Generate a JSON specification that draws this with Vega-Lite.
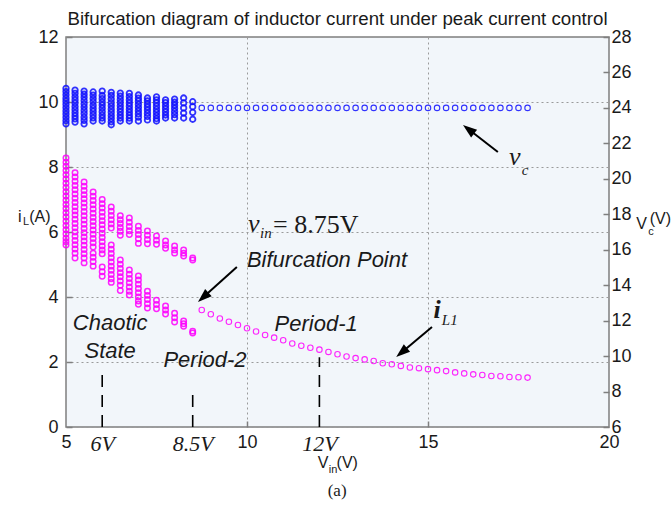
{
  "$schema": "https://vega.github.io/schema/vega-lite/v6.json",
  "width": 543,
  "height": 390,
  "autosize": {"type": "none"},
  "padding": {"left": 66, "top": 37, "right": 62, "bottom": 89},
  "background": "white",
  "title": {"text": "Bifurcation diagram of inductor current under peak current control", "fontSize": 18.7, "font": "Liberation Sans", "fontWeight": "normal", "color": "#1a1a1a", "anchor": "middle", "offset": -1},
  "config": {
    "view": {"fill": "#f2f6fa", "stroke": "#7f7f7f", "strokeWidth": 1.5},
    "axis": {"labelFont": "Liberation Sans", "labelColor": "#1a1a1a", "tickColor": "#7f7f7f", "tickWidth": 1.5, "domain": false}
  },
  "datasets": {
    "pink": [
      {"vin":5,"il":8.28},{"vin":5,"il":8.15},{"vin":5,"il":8.02},{"vin":5,"il":7.89},{"vin":5,"il":7.76},{"vin":5,"il":7.63},{"vin":5,"il":7.5},{"vin":5,"il":7.37},{"vin":5,"il":7.24},{"vin":5,"il":7.11},{"vin":5,"il":6.98},{"vin":5,"il":6.85},{"vin":5,"il":6.72},{"vin":5,"il":6.59},{"vin":5,"il":6.46},{"vin":5,"il":6.33},{"vin":5,"il":6.2},{"vin":5,"il":6.07},{"vin":5,"il":5.94},{"vin":5,"il":5.81},{"vin":5,"il":5.7},{"vin":5,"il":5.6},
      {"vin":5.25,"il":7.82},{"vin":5.25,"il":7.69},{"vin":5.25,"il":7.56},{"vin":5.25,"il":7.43},{"vin":5.25,"il":7.3},{"vin":5.25,"il":7.17},{"vin":5.25,"il":7.04},{"vin":5.25,"il":6.91},{"vin":5.25,"il":6.78},{"vin":5.25,"il":6.65},{"vin":5.25,"il":6.52},{"vin":5.25,"il":6.39},{"vin":5.25,"il":6.26},{"vin":5.25,"il":6.13},{"vin":5.25,"il":6.0},{"vin":5.25,"il":5.87},{"vin":5.25,"il":5.74},{"vin":5.25,"il":5.61},{"vin":5.25,"il":5.48},{"vin":5.25,"il":5.35},{"vin":5.25,"il":5.2},
      {"vin":5.5,"il":7.54},{"vin":5.5,"il":7.41},{"vin":5.5,"il":7.28},{"vin":5.5,"il":7.15},{"vin":5.5,"il":7.02},{"vin":5.5,"il":6.89},{"vin":5.5,"il":6.76},{"vin":5.5,"il":6.63},{"vin":5.5,"il":6.5},{"vin":5.5,"il":6.37},{"vin":5.5,"il":6.24},{"vin":5.5,"il":6.11},{"vin":5.5,"il":5.98},{"vin":5.5,"il":5.85},{"vin":5.5,"il":5.72},{"vin":5.5,"il":5.59},{"vin":5.5,"il":5.46},{"vin":5.5,"il":5.33},{"vin":5.5,"il":5.2},{"vin":5.5,"il":5.05},
      {"vin":5.75,"il":7.23},{"vin":5.75,"il":7.1},{"vin":5.75,"il":6.97},{"vin":5.75,"il":6.84},{"vin":5.75,"il":6.71},{"vin":5.75,"il":6.58},{"vin":5.75,"il":6.45},{"vin":5.75,"il":6.32},{"vin":5.75,"il":6.19},{"vin":5.75,"il":6.06},{"vin":5.75,"il":5.93},{"vin":5.75,"il":5.8},{"vin":5.75,"il":5.67},{"vin":5.75,"il":5.54},{"vin":5.75,"il":5.35},{"vin":5.75,"il":5.22},{"vin":5.75,"il":5.09},{"vin":5.75,"il":4.95},
      {"vin":6,"il":7.0},{"vin":6,"il":6.87},{"vin":6,"il":6.74},{"vin":6,"il":6.61},{"vin":6,"il":6.48},{"vin":6,"il":6.35},{"vin":6,"il":6.22},{"vin":6,"il":6.09},{"vin":6,"il":5.96},{"vin":6,"il":5.83},{"vin":6,"il":5.7},{"vin":6,"il":5.57},{"vin":6,"il":5.45},{"vin":6,"il":5.33},{"vin":6,"il":4.92},{"vin":6,"il":4.78},{"vin":6,"il":4.64},
      {"vin":6.25,"il":6.77},{"vin":6.25,"il":6.64},{"vin":6.25,"il":6.51},{"vin":6.25,"il":6.38},{"vin":6.25,"il":6.25},{"vin":6.25,"il":6.12},{"vin":6.25,"il":5.6},{"vin":6.25,"il":5.47},{"vin":6.25,"il":5.34},{"vin":6.25,"il":5.21},{"vin":6.25,"il":5.08},{"vin":6.25,"il":4.95},{"vin":6.25,"il":4.82},{"vin":6.25,"il":4.69},{"vin":6.25,"il":4.56},{"vin":6.25,"il":4.45},
      {"vin":6.5,"il":6.5},{"vin":6.5,"il":6.38},{"vin":6.5,"il":6.26},{"vin":6.5,"il":6.14},{"vin":6.5,"il":6.02},{"vin":6.5,"il":5.9},{"vin":6.5,"il":5.14},{"vin":6.5,"il":5.01},{"vin":6.5,"il":4.88},{"vin":6.5,"il":4.75},{"vin":6.5,"il":4.62},{"vin":6.5,"il":4.49},{"vin":6.5,"il":4.36},{"vin":6.5,"il":4.2},
      {"vin":6.75,"il":6.43},{"vin":6.75,"il":6.3},{"vin":6.75,"il":6.17},{"vin":6.75,"il":6.04},{"vin":6.75,"il":5.92},{"vin":6.75,"il":4.83},{"vin":6.75,"il":4.7},{"vin":6.75,"il":4.57},{"vin":6.75,"il":4.44},{"vin":6.75,"il":4.31},{"vin":6.75,"il":4.18},{"vin":6.75,"il":4.06},
      {"vin":7,"il":6.18},{"vin":7,"il":6.05},{"vin":7,"il":5.92},{"vin":7,"il":5.79},{"vin":7,"il":5.65},{"vin":7,"il":4.65},{"vin":7,"il":4.52},{"vin":7,"il":4.39},{"vin":7,"il":4.26},{"vin":7,"il":4.13},{"vin":7,"il":4.0},{"vin":7,"il":3.88},{"vin":7,"il":3.78},
      {"vin":7.25,"il":6.03},{"vin":7.25,"il":5.9},{"vin":7.25,"il":5.77},{"vin":7.25,"il":5.64},{"vin":7.25,"il":4.18},{"vin":7.25,"il":4.05},{"vin":7.25,"il":3.92},{"vin":7.25,"il":3.79},{"vin":7.25,"il":3.66},
      {"vin":7.5,"il":5.88},{"vin":7.5,"il":5.75},{"vin":7.5,"il":5.62},{"vin":7.5,"il":3.9},{"vin":7.5,"il":3.77},{"vin":7.5,"il":3.64},
      {"vin":7.75,"il":5.72},{"vin":7.75,"il":5.6},{"vin":7.75,"il":5.5},{"vin":7.75,"il":3.72},{"vin":7.75,"il":3.6},{"vin":7.75,"il":3.48},
      {"vin":8,"il":5.57},{"vin":8,"il":5.45},{"vin":8,"il":5.35},{"vin":8,"il":3.5},{"vin":8,"il":3.36},{"vin":8,"il":3.23},
      {"vin":8.25,"il":5.45},{"vin":8.25,"il":5.35},{"vin":8.25,"il":5.26},{"vin":8.25,"il":3.26},{"vin":8.25,"il":3.18},{"vin":8.25,"il":3.1},
      {"vin":8.5,"il":5.2},{"vin":8.5,"il":5.14},{"vin":8.5,"il":2.95},{"vin":8.5,"il":2.89},
      {"vin":8.75,"il":3.6},{"vin":9,"il":3.47},{"vin":9.25,"il":3.34},{"vin":9.5,"il":3.24},{"vin":9.75,"il":3.14},{"vin":10,"il":3.04},{"vin":10.25,"il":2.94},{"vin":10.5,"il":2.83},{"vin":10.75,"il":2.75},{"vin":11,"il":2.67},{"vin":11.25,"il":2.57},{"vin":11.5,"il":2.5},{"vin":11.75,"il":2.44},{"vin":12,"il":2.38},{"vin":12.25,"il":2.31},{"vin":12.5,"il":2.24},{"vin":12.75,"il":2.17},{"vin":13,"il":2.12},{"vin":13.25,"il":2.08},{"vin":13.5,"il":2.03},{"vin":13.75,"il":1.96},{"vin":14,"il":1.93},{"vin":14.25,"il":1.88},{"vin":14.5,"il":1.83},{"vin":14.75,"il":1.81},{"vin":15,"il":1.78},{"vin":15.25,"il":1.75},{"vin":15.5,"il":1.72},{"vin":15.75,"il":1.68},{"vin":16,"il":1.65},{"vin":16.25,"il":1.62},{"vin":16.5,"il":1.6},{"vin":16.75,"il":1.57},{"vin":17,"il":1.56},{"vin":17.25,"il":1.54},{"vin":17.5,"il":1.53},{"vin":17.75,"il":1.52}
    ],
    "blue": [
      {"vin":5,"vc":25.1},{"vin":5,"vc":24.92},{"vin":5,"vc":24.74},{"vin":5,"vc":24.55},{"vin":5,"vc":24.38},{"vin":5,"vc":24.2},{"vin":5,"vc":24.02},{"vin":5,"vc":23.83},{"vin":5,"vc":23.65},{"vin":5,"vc":23.47},{"vin":5,"vc":23.28},{"vin":5,"vc":23.1},
      {"vin":5.25,"vc":25.0},{"vin":5.25,"vc":24.82},{"vin":5.25,"vc":24.63},{"vin":5.25,"vc":24.45},{"vin":5.25,"vc":24.27},{"vin":5.25,"vc":24.08},{"vin":5.25,"vc":23.9},{"vin":5.25,"vc":23.72},{"vin":5.25,"vc":23.55},{"vin":5.25,"vc":23.38},{"vin":5.25,"vc":23.2},
      {"vin":5.5,"vc":24.95},{"vin":5.5,"vc":24.77},{"vin":5.5,"vc":24.6},{"vin":5.5,"vc":24.42},{"vin":5.5,"vc":24.23},{"vin":5.5,"vc":24.05},{"vin":5.5,"vc":23.86},{"vin":5.5,"vc":23.68},{"vin":5.5,"vc":23.48},{"vin":5.5,"vc":23.3},{"vin":5.5,"vc":23.1},
      {"vin":5.75,"vc":24.9},{"vin":5.75,"vc":24.72},{"vin":5.75,"vc":24.53},{"vin":5.75,"vc":24.35},{"vin":5.75,"vc":24.15},{"vin":5.75,"vc":23.97},{"vin":5.75,"vc":23.8},{"vin":5.75,"vc":23.62},{"vin":5.75,"vc":23.44},{"vin":5.75,"vc":23.26},
      {"vin":6,"vc":24.95},{"vin":6,"vc":24.7},{"vin":6,"vc":24.52},{"vin":6,"vc":24.33},{"vin":6,"vc":24.16},{"vin":6,"vc":23.98},{"vin":6,"vc":23.79},{"vin":6,"vc":23.6},{"vin":6,"vc":23.43},{"vin":6,"vc":23.26},
      {"vin":6.25,"vc":24.88},{"vin":6.25,"vc":24.7},{"vin":6.25,"vc":24.5},{"vin":6.25,"vc":24.3},{"vin":6.25,"vc":24.12},{"vin":6.25,"vc":23.93},{"vin":6.25,"vc":23.75},{"vin":6.25,"vc":23.57},{"vin":6.25,"vc":23.4},{"vin":6.25,"vc":23.22},{"vin":6.25,"vc":23.05},
      {"vin":6.5,"vc":24.84},{"vin":6.5,"vc":24.66},{"vin":6.5,"vc":24.48},{"vin":6.5,"vc":24.3},{"vin":6.5,"vc":24.12},{"vin":6.5,"vc":23.95},{"vin":6.5,"vc":23.78},{"vin":6.5,"vc":23.6},{"vin":6.5,"vc":23.43},{"vin":6.5,"vc":23.26},
      {"vin":6.75,"vc":24.82},{"vin":6.75,"vc":24.64},{"vin":6.75,"vc":24.45},{"vin":6.75,"vc":24.27},{"vin":6.75,"vc":24.1},{"vin":6.75,"vc":23.92},{"vin":6.75,"vc":23.75},{"vin":6.75,"vc":23.58},{"vin":6.75,"vc":23.42},{"vin":6.75,"vc":23.26},
      {"vin":7,"vc":24.73},{"vin":7,"vc":24.55},{"vin":7,"vc":24.38},{"vin":7,"vc":24.2},{"vin":7,"vc":24.02},{"vin":7,"vc":23.84},{"vin":7,"vc":23.66},{"vin":7,"vc":23.48},{"vin":7,"vc":23.26},
      {"vin":7.25,"vc":24.56},{"vin":7.25,"vc":24.4},{"vin":7.25,"vc":24.22},{"vin":7.25,"vc":24.05},{"vin":7.25,"vc":23.88},{"vin":7.25,"vc":23.7},{"vin":7.25,"vc":23.52},{"vin":7.25,"vc":23.32},
      {"vin":7.5,"vc":24.62},{"vin":7.5,"vc":24.45},{"vin":7.5,"vc":24.28},{"vin":7.5,"vc":24.1},{"vin":7.5,"vc":23.92},{"vin":7.5,"vc":23.75},{"vin":7.5,"vc":23.57},{"vin":7.5,"vc":23.4},{"vin":7.5,"vc":23.26},
      {"vin":7.75,"vc":24.45},{"vin":7.75,"vc":24.3},{"vin":7.75,"vc":24.12},{"vin":7.75,"vc":23.95},{"vin":7.75,"vc":23.78},{"vin":7.75,"vc":23.6},{"vin":7.75,"vc":23.43},
      {"vin":8,"vc":24.5},{"vin":8,"vc":24.32},{"vin":8,"vc":24.15},{"vin":8,"vc":23.98},{"vin":8,"vc":23.8},{"vin":8,"vc":23.62},{"vin":8,"vc":23.43},
      {"vin":8.25,"vc":24.56},{"vin":8.25,"vc":24.28},{"vin":8.25,"vc":24.0},{"vin":8.25,"vc":23.71},{"vin":8.25,"vc":23.43},
      {"vin":8.5,"vc":24.35},{"vin":8.5,"vc":24.07},{"vin":8.5,"vc":23.75},{"vin":8.5,"vc":23.36},
      {"vin":8.75,"vc":24.0},{"vin":9,"vc":24.0},{"vin":9.25,"vc":24.0},{"vin":9.5,"vc":24.0},{"vin":9.75,"vc":24.0},{"vin":10,"vc":24.0},{"vin":10.25,"vc":24.0},{"vin":10.5,"vc":24.0},{"vin":10.75,"vc":24.0},{"vin":11,"vc":24.0},{"vin":11.25,"vc":24.0},{"vin":11.5,"vc":24.0},{"vin":11.75,"vc":24.0},{"vin":12,"vc":24.0},{"vin":12.25,"vc":24.0},{"vin":12.5,"vc":24.0},{"vin":12.75,"vc":24.0},{"vin":13,"vc":24.0},{"vin":13.25,"vc":24.0},{"vin":13.5,"vc":24.0},{"vin":13.75,"vc":24.0},{"vin":14,"vc":24.0},{"vin":14.25,"vc":24.0},{"vin":14.5,"vc":24.0},{"vin":14.75,"vc":24.0},{"vin":15,"vc":24.0},{"vin":15.25,"vc":24.0},{"vin":15.5,"vc":24.0},{"vin":15.75,"vc":24.0},{"vin":16,"vc":24.0},{"vin":16.25,"vc":24.0},{"vin":16.5,"vc":24.0},{"vin":16.75,"vc":24.0},{"vin":17,"vc":24.0},{"vin":17.25,"vc":24.0},{"vin":17.5,"vc":24.0},{"vin":17.75,"vc":24.0}
    ],
    "dash": [
      {"vin": 6, "il": 0, "il2": 1.7},
      {"vin": 8.5, "il": 0, "il2": 1.05},
      {"vin": 12, "il": 0, "il2": 2.15}
    ],
    "arrows": [
      {"vin": 16.93, "il": 8.46, "vin2": 16.12, "il2": 9.16},
      {"vin": 9.72, "il": 4.92, "vin2": 8.79, "il2": 3.99},
      {"vin": 15.11, "il": 3.08, "vin2": 14.27, "il2": 2.29}
    ],
    "heads": [
      {"vin": 16.12, "il": 9.16, "angle": 307.6},
      {"vin": 8.79, "il": 3.99, "angle": 228.1},
      {"vin": 14.27, "il": 2.29, "angle": 230.2}
    ],
    "sansItalic": [
      {"vin": 12.21, "il": 5.14, "text": "Bifurcation Point"},
      {"vin": 11.91, "il": 3.17, "text": "Period-1"},
      {"vin": 8.84, "il": 2.06, "text": "Period-2"},
      {"vin": 6.22, "il": 3.2, "text": "Chaotic"},
      {"vin": 6.22, "il": 2.34, "text": "State"}
    ],
    "serifBig": [
      {"vin": 17.4, "il": 8.06, "text": "v"},
      {"vin": 10.19, "il": 6.0, "text": "v"}
    ],
    "serifBold": [
      {"vin": 15.25, "il": 3.35, "text": "i"}
    ],
    "serifSub": [
      {"vin": 17.68, "il": 7.75, "text": "c"},
      {"vin": 15.6, "il": 3.14, "text": "L1"},
      {"vin": 10.52, "il": 5.82, "text": "in"}
    ],
    "serifEq": [
      {"vin": 10.72, "il": 5.97, "text": "= 8.75V"}
    ],
    "axisTitles": [
      {"vin": 3.72, "il": 6.46, "text": "i"},
      {"vin": 4.28, "il": 6.46, "text": "(A)"},
      {"vin": 20.9, "il": 6.25, "text": "V"},
      {"vin": 21.42, "il": 6.4, "text": "(V)"},
      {"vin": 12.1, "il": -1.11, "text": "V"},
      {"vin": 12.77, "il": -1.11, "text": "(V)"}
    ],
    "axisSubs": [
      {"vin": 3.9, "il": 6.31, "text": "L"},
      {"vin": 21.16, "il": 6.0, "text": "c"},
      {"vin": 12.38, "il": -1.32, "text": "in"}
    ],
    "caption": [
      {"vin": 12.49, "il": -1.97, "text": "(a)"}
    ]
  },
  "encoding": {
    "x": {"field": "vin", "type": "quantitative", "scale": {"domain": [5, 20], "nice": false, "zero": false},
      "axis": {
        "title": null,
        "values": [5, 6, 8.5, 10, 12, 15, 20],
        "grid": true, "gridColor": "#9a9a9a", "gridDash": [2, 3], "gridWidth": 1,
        "gridOpacity": {"condition": {"test": "datum.value==10||datum.value==15", "value": 1}, "value": 0},
        "tickOpacity": {"condition": {"test": "datum.value==10||datum.value==15", "value": 1}, "value": 0},
        "tickSize": -6,
        "labelExpr": "datum.value==6?'6V':datum.value==8.5?'8.5V':datum.value==12?'12V':datum.label",
        "labelFont": {"condition": {"test": "datum.value==6||datum.value==8.5||datum.value==12", "value": "Liberation Serif"}, "value": "Liberation Sans"},
        "labelFontStyle": {"condition": {"test": "datum.value==6||datum.value==8.5||datum.value==12", "value": "italic"}, "value": "normal"},
        "labelFontSize": {"condition": {"test": "datum.value==6||datum.value==8.5||datum.value==12", "value": 22}, "value": 18},
        "labelPadding": 12, "labelFlush": false, "labelOverlap": false, "labelBound": false
      }}
  },
  "layer": [
    {
      "encoding": {
        "y": {"field": "il", "type": "quantitative", "scale": {"domain": [0, 12], "nice": false, "zero": false},
          "axis": {"title": null, "values": [0, 2, 4, 6, 8, 10, 12], "grid": true, "gridColor": "#9a9a9a", "gridDash": [2, 3], "gridWidth": 1, "tickSize": -6, "labelFontSize": 18, "labelPadding": 14}}
      },
      "layer": [
        {
          "data": {"name": "pink"},
          "mark": {"type": "point", "shape": "circle", "filled": false, "size": 30, "color": "#ff00ff", "opacity": 0.85},
          "encoding": {
            "strokeWidth": {"condition": {"test": "datum.vin < 8.6", "value": 1.5}, "value": 1.1}
          }
        },
        {
          "data": {"name": "dash"},
          "mark": {"type": "rule", "color": "black", "strokeWidth": 1.6, "strokeDash": [12, 8]},
          "encoding": {"y2": {"field": "il2"}}
        },
        {
          "data": {"name": "arrows"},
          "mark": {"type": "rule", "color": "black", "strokeWidth": 2},
          "encoding": {"x2": {"field": "vin2"}, "y2": {"field": "il2"}}
        },
        {
          "data": {"name": "heads"},
          "mark": {"type": "point", "shape": "M0,-1L0.7,1L-0.7,1Z", "filled": true, "size": 196, "color": "black", "opacity": 1},
          "encoding": {"angle": {"field": "angle", "type": "quantitative", "scale": null}}
        },
        {
          "data": {"name": "sansItalic"},
          "mark": {"type": "text", "font": "Liberation Sans", "fontStyle": "italic", "fontSize": 22, "color": "#1a1a1a", "align": "center", "baseline": "middle"},
          "encoding": {"text": {"field": "text"}}
        },
        {
          "data": {"name": "serifBig"},
          "mark": {"type": "text", "font": "Liberation Serif", "fontStyle": "italic", "fontSize": 26, "color": "#1a1a1a", "align": "center", "baseline": "alphabetic"},
          "encoding": {"text": {"field": "text"}}
        },
        {
          "data": {"name": "serifBold"},
          "mark": {"type": "text", "font": "Liberation Serif", "fontStyle": "italic", "fontWeight": "bold", "fontSize": 26, "color": "#1a1a1a", "align": "center", "baseline": "alphabetic"},
          "encoding": {"text": {"field": "text"}}
        },
        {
          "data": {"name": "serifSub"},
          "mark": {"type": "text", "font": "Liberation Serif", "fontStyle": "italic", "fontSize": 15, "color": "#1a1a1a", "align": "center", "baseline": "alphabetic"},
          "encoding": {"text": {"field": "text"}}
        },
        {
          "data": {"name": "serifEq"},
          "mark": {"type": "text", "font": "Liberation Serif", "fontSize": 26, "color": "#1a1a1a", "align": "left", "baseline": "alphabetic"},
          "encoding": {"text": {"field": "text"}}
        },
        {
          "data": {"name": "axisTitles"},
          "mark": {"type": "text", "font": "Liberation Sans", "fontSize": 16, "color": "#1a1a1a", "align": "center", "baseline": "middle"},
          "encoding": {"text": {"field": "text"}}
        },
        {
          "data": {"name": "axisSubs"},
          "mark": {"type": "text", "font": "Liberation Sans", "fontSize": 11, "color": "#1a1a1a", "align": "center", "baseline": "middle"},
          "encoding": {"text": {"field": "text"}}
        },
        {
          "data": {"name": "caption"},
          "mark": {"type": "text", "font": "Liberation Serif", "fontSize": 17, "color": "#1a1a1a", "align": "center", "baseline": "middle"},
          "encoding": {"text": {"field": "text"}}
        }
      ]
    },
    {
      "data": {"name": "blue"},
      "mark": {"type": "point", "shape": "circle", "filled": false, "size": 30, "color": "#1010ff", "opacity": 0.85},
      "encoding": {
        "y": {"field": "vc", "type": "quantitative", "scale": {"domain": [6, 28], "nice": false, "zero": false},
          "axis": {"title": null, "orient": "right", "values": [6, 8, 10, 12, 14, 16, 18, 20, 22, 24, 26, 28], "grid": false, "tickSize": -6, "labelFontSize": 18, "labelPadding": 8}},
        "strokeWidth": {"condition": {"test": "datum.vin < 8.6", "value": 1.8}, "value": 1.1}
      }
    }
  ],
  "resolve": {"scale": {"y": "independent"}}
}
